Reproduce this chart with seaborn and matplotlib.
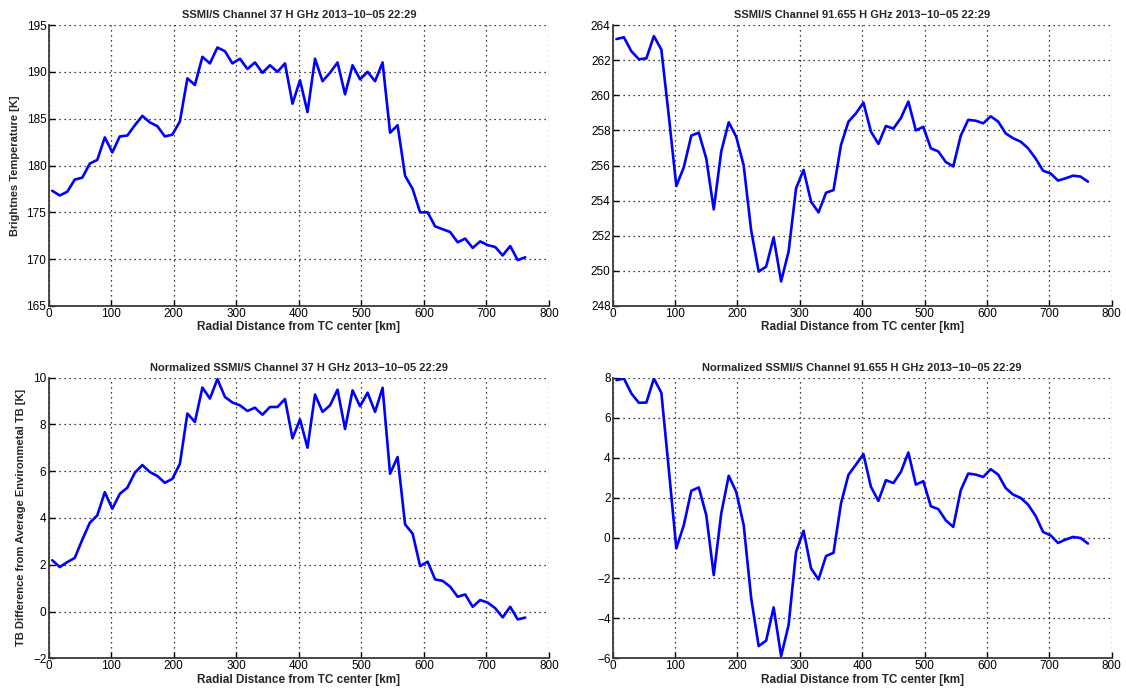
import numpy as np
import pandas as pd
import matplotlib
matplotlib.use("Agg")
import matplotlib.pyplot as plt
import seaborn as sns

# Radial bins (km from TC center)
radial_km = [6, 18, 30, 42, 54, 66, 78, 90, 102, 114, 126, 138, 150, 162, 174, 186,
             198, 210, 222, 234, 246, 258, 270, 282, 294, 306, 318, 330, 342, 354, 366, 378,
             390, 402, 414, 426, 438, 450, 462, 474, 486, 498, 510, 522, 534, 546, 558, 570,
             582, 594, 606, 618, 630, 642, 654, 666, 678, 690, 702, 714, 726, 738, 750, 762]

# 37 GHz H brightness temperature [K]
tb37 = [177.3, 176.8, 177.2, 178.5, 178.7, 180.2, 180.6, 183.0, 181.4, 183.1, 183.2, 184.3,
        185.3, 184.6, 184.2, 183.1, 183.3, 184.7, 189.3, 188.6, 191.6, 190.9, 192.6, 192.2,
        190.9, 191.4, 190.3, 191.0, 189.9, 190.7, 190.0, 190.9, 186.6, 189.1, 185.7, 191.4,
        189.0, 189.9, 191.0, 187.6, 190.7, 189.2, 190.0, 189.0, 191.0, 183.5, 184.3, 178.9,
        177.5, 175.0, 175.0, 173.5, 173.2, 172.9, 171.8, 172.2, 171.2, 171.9, 171.5, 171.3,
        170.4, 171.4, 169.9, 170.2]

# 91.655 GHz H brightness temperature [K]
tb91 = [263.2, 263.3, 262.5, 262.05, 262.1, 263.37, 262.6, 258.8, 254.83, 255.9, 257.7, 257.87,
        256.4, 253.5, 256.8, 258.46, 257.64, 256.0, 252.3, 249.96, 250.24, 251.9, 249.4, 251.1,
        254.7, 255.75, 253.94, 253.33, 254.45, 254.6, 257.17, 258.5, 258.97, 259.58, 257.93, 257.23,
        258.25, 258.1, 258.7, 259.64, 258.0, 258.2, 256.98, 256.8, 256.2, 255.95, 257.7, 258.6,
        258.55, 258.4, 258.8, 258.5, 257.83, 257.55, 257.36, 256.98, 256.4, 255.7, 255.55, 255.14,
        255.27, 255.42, 255.37, 255.08]

# Normalized 37 GHz (TB minus environmental mean) [K]
norm37 = [2.19, 1.9, 2.11, 2.29, 3.07, 3.79, 4.11, 5.1, 4.39, 5.03, 5.29, 5.93,
          6.26, 5.96, 5.79, 5.5, 5.67, 6.31, 8.46, 8.1, 9.57, 9.1, 9.93, 9.17,
          8.93, 8.81, 8.57, 8.71, 8.41, 8.74, 8.74, 9.08, 7.4, 8.21, 7.0, 9.27,
          8.53, 8.81, 9.48, 7.8, 9.45, 8.77, 9.35, 8.53, 9.56, 5.89, 6.6, 3.72,
          3.33, 1.94, 2.13, 1.37, 1.31, 1.06, 0.63, 0.73, 0.2, 0.49, 0.38, 0.14,
          -0.25, 0.2, -0.34, -0.26]

# Normalized 91.655 GHz [K]
norm91 = [7.87, 7.95, 7.2, 6.74, 6.75, 7.95, 7.24, 3.4, -0.52, 0.64, 2.35, 2.52,
          1.14, -1.85, 1.22, 3.1, 2.3, 0.64, -3.0, -5.39, -5.12, -3.46, -5.89, -4.34,
          -0.69, 0.36, -1.52, -2.07, -0.9, -0.74, 1.72, 3.15, 3.66, 4.18, 2.55, 1.85,
          2.88, 2.74, 3.29, 4.26, 2.66, 2.83, 1.58, 1.44, 0.88, 0.55, 2.38, 3.21,
          3.16, 3.04, 3.43, 3.16, 2.49, 2.16, 2.0, 1.66, 1.1, 0.3, 0.13, -0.25,
          -0.08, 0.05, 0.0, -0.28]

titles = ["SSMI/S Channel 37 H GHz 2013\u221210\u221205 22:29",
          "SSMI/S Channel 91.655 H GHz 2013\u221210\u221205 22:29",
          "Normalized SSMI/S Channel 37 H GHz 2013\u221210\u221205 22:29",
          "Normalized SSMI/S Channel 91.655 H GHz 2013\u221210\u221205 22:29"]
ylabels = ["Brightnes Temperature [K]", "",
           "TB Difference from Average Environmetal TB [K]", ""]
xlabel = "Radial Distance from TC center [km]"
ylims = [(165, 195), (248, 264), (-2, 10), (-6, 8)]
ysteps = [5, 2, 2, 2]

sns.set_theme(style="white")
plt.rcParams["font.family"] = ["Liberation Sans", "DejaVu Sans"]
plt.rcParams["font.size"] = 8

fig = plt.figure(figsize=(11.26, 6.94), dpi=100)
W, H = 1126, 694
boxes = [(48.5, 25, 549, 306), (612.7, 25, 1111.7, 306),
         (48.5, 377.5, 549, 658.3), (612.7, 377.5, 1111.7, 658.3)]

series = [tb37, tb91, norm37, norm91]
for i, (x0, y0, x1, y1) in enumerate(boxes):
    ax = fig.add_axes([x0 / W, 1 - y1 / H, (x1 - x0) / W, (y1 - y0) / H])
    df = pd.DataFrame({"r": radial_km, "v": series[i]})
    sns.lineplot(data=df, x="r", y="v", ax=ax, color=(0, 0, 1), linewidth=1.9)
    lo, hi = ylims[i]
    ax.set_xlim(0, 800)
    ax.set_ylim(lo, hi)
    ax.set_xticks(np.arange(0, 801, 100))
    ax.set_yticks(np.arange(lo, hi + 0.1, ysteps[i]))
    ax.grid(True, color="black", linestyle=(0, (1, 3)), linewidth=0.9)
    ax.set_axisbelow(True)
    for side in ("top", "right"):
        ax.spines[side].set_visible(False)
    for side in ("left", "bottom"):
        ax.spines[side].set_visible(True)
        ax.spines[side].set_color("#3a3a3a")
        ax.spines[side].set_linewidth(1.3)
    ax.tick_params(direction="in", length=4, width=1.0, labelsize=8.5, colors="black",
                   top=False, right=False, bottom=True, left=True, pad=1.5)
    ax.set_title(titles[i], fontsize=8, fontweight="bold", pad=5)
    ax.set_xlabel(xlabel, fontsize=8.5, fontweight="bold", labelpad=1)
    ax.set_ylabel(ylabels[i], fontsize=8, fontweight="bold", labelpad=5)
    ax.yaxis.set_major_formatter(matplotlib.ticker.FuncFormatter(
        lambda v, p: f"{int(round(v))}".replace("-", "\u2212")))

fig.savefig("out.png", dpi=100, facecolor="white")
